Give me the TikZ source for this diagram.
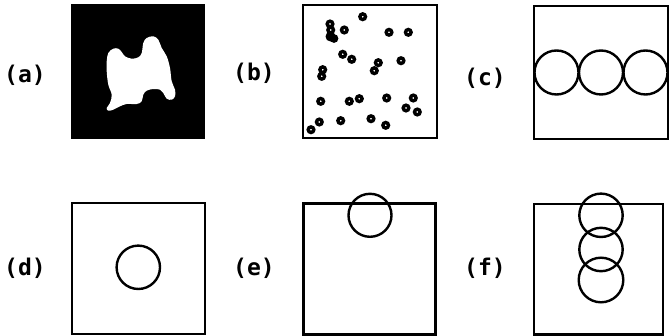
\documentclass[tikz,border=0pt]{standalone}
\usepackage{fontspec}
\newfontfamily\labfont{DejaVu Sans Mono}
\begin{document}
\begin{tikzpicture}[x=1pt,y=-1pt,
  lab/.style={font=\labfont\bfseries\fontsize{23}{24}\selectfont, inner sep=0pt},
  frame/.style={draw=black, line width=2.8pt},
  ring/.style={draw=black, line width=2.4pt},
  dot/.style={draw=black, line width=3.4pt}]
\useasboundingbox (0,0) rectangle (669,336);
% labels
\node[lab] (la) at (25,75) {(a)};
\node[lab] (lb) at (254,73) {(b)};
\node[lab] (lc) at (485,78) {(c)};
\node[lab] (ld) at (25,268) {(d)};
\node[lab] (le) at (254,268) {(e)};
\node[lab] (lf) at (485,268) {(f)};
% (a)
\fill[black] (71,4) rectangle (205,139);
\fill[white] plot[smooth cycle, tension=0.6] coordinates {
 (108.3,53) (113.3,48.7) (118.3,48.7) (121.7,52) (125,56.3) (131.7,58.7)
 (138.3,57.3) (141.7,53) (143.3,43) (146.7,38) (153.3,36.3) (158.3,39.7)
 (161.7,48) (166.7,56.3) (170,68) (171.7,81.3) (175,89.7) (175,96.3)
 (171.7,99.7) (166.7,98.7) (163.3,93) (160,89.7) (153.3,89) (146.7,90.7)
 (143.3,94.7) (141.7,101.3) (136.7,104) (126.7,104) (120,106.3) (113.3,109.7)
 (108.3,110.7) (106.7,108) (110,103) (111.7,94.7) (108.3,84.7) (106.7,71.3)
 (106.7,61.3)};
% (b)
\draw[frame] (303,5) rectangle (437,138);
\foreach \p in {(362.7,16.7),(330,24),(330.7,30),(344.3,30),(342.7,54.3),(351.7,59.3),
  (389,32.3),(408.3,32.3),(378.3,62.7),(401,60.7),(322.7,69.7),(321.7,76.3),
  (320.7,101.3),(349.3,101.3),(359.3,98.7),(319.3,122),(340.7,120.7),(311,129.7),
  (374.3,70.7),(386.7,98),(413.3,98),(406,108),(417.3,112),(371,118.7),(385.7,125.3)}
  \draw[dot] \p circle[radius=2.8];
\fill[black] (330.5,36.5) circle[radius=5];
\fill[black] (334,38.5) circle[radius=4.4];
% (c)
\draw[frame] (534,6) rectangle (668,139);
\draw[ring] (556.5,72.5) circle[radius=22];
\draw[ring] (601,72.5) circle[radius=22];
\draw[ring] (645.5,72.5) circle[radius=22];
% (d)
\draw[frame] (72,203) rectangle (205,334);
\draw[ring] (138.3,267.3) circle[radius=21.7];
% (e)
\draw[frame] (303.5,203.5) rectangle (435.5,334.5);
\draw[ring] (370,215.3) circle[radius=21.5];
% (f)
\draw[frame] (534,204) rectangle (663,334.5);
\draw[ring] (601,215.3) circle[radius=21.7];
\draw[ring] (601,249.5) circle[radius=21.7];
\draw[ring] (601,280) circle[radius=22.3];
\end{tikzpicture}
\end{document}
